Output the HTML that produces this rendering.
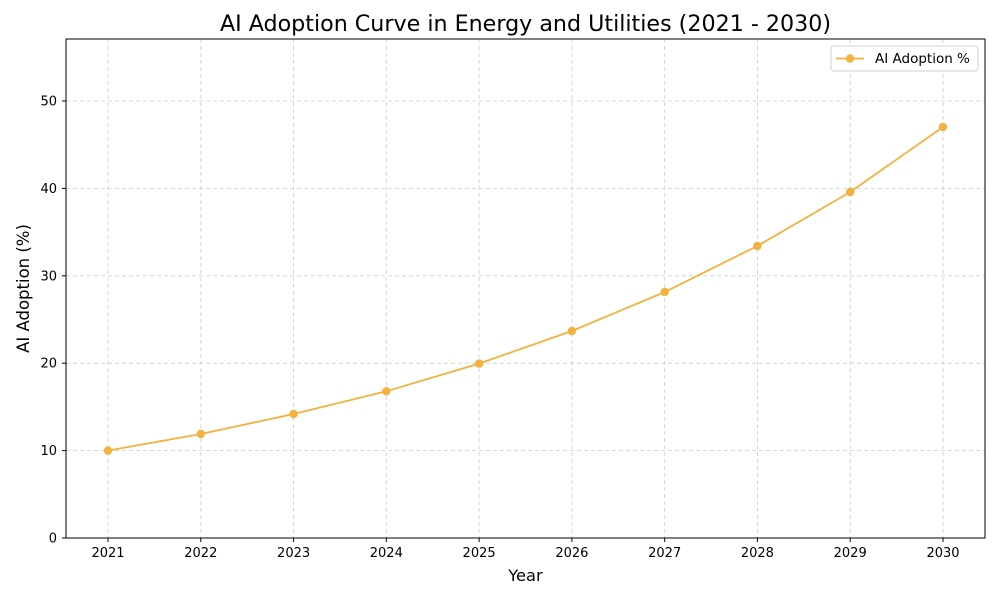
<!DOCTYPE html>
<html><head><meta charset="utf-8"><style>body{margin:0;background:#fff}svg{display:block}text{font-family:"DejaVu Sans","Liberation Sans",sans-serif}</style></head>
<body>
<svg width="1000" height="600" viewBox="0 0 1000 600" xmlns="http://www.w3.org/2000/svg">
<rect width="1000" height="600" fill="#fff"/>
<g stroke="#cccccc" stroke-width="0.8" stroke-dasharray="4,3">
<line x1="108" y1="39" x2="108" y2="538"/><line x1="200.8" y1="39" x2="200.8" y2="538"/><line x1="293.6" y1="39" x2="293.6" y2="538"/><line x1="386.3" y1="39" x2="386.3" y2="538"/><line x1="479.1" y1="39" x2="479.1" y2="538"/><line x1="571.9" y1="39" x2="571.9" y2="538"/><line x1="664.7" y1="39" x2="664.7" y2="538"/><line x1="757.4" y1="39" x2="757.4" y2="538"/><line x1="850.2" y1="39" x2="850.2" y2="538"/><line x1="943" y1="39" x2="943" y2="538"/>
<line x1="66" y1="450.6" x2="985" y2="450.6"/><line x1="66" y1="363.2" x2="985" y2="363.2"/><line x1="66" y1="275.8" x2="985" y2="275.8"/><line x1="66" y1="188.4" x2="985" y2="188.4"/><line x1="66" y1="101" x2="985" y2="101"/>
</g>
<rect x="66" y="39" width="919" height="499" fill="none" stroke="#000" stroke-width="1"/>
<g stroke="#000" stroke-width="1">
<line x1="108" y1="538" x2="108" y2="542"/><line x1="200.8" y1="538" x2="200.8" y2="542"/><line x1="293.6" y1="538" x2="293.6" y2="542"/><line x1="386.3" y1="538" x2="386.3" y2="542"/><line x1="479.1" y1="538" x2="479.1" y2="542"/><line x1="571.9" y1="538" x2="571.9" y2="542"/><line x1="664.7" y1="538" x2="664.7" y2="542"/><line x1="757.4" y1="538" x2="757.4" y2="542"/><line x1="850.2" y1="538" x2="850.2" y2="542"/><line x1="943" y1="538" x2="943" y2="542"/>
<line x1="62" y1="538" x2="66" y2="538"/><line x1="62" y1="450.6" x2="66" y2="450.6"/><line x1="62" y1="363.2" x2="66" y2="363.2"/><line x1="62" y1="275.8" x2="66" y2="275.8"/><line x1="62" y1="188.4" x2="66" y2="188.4"/><line x1="62" y1="101" x2="66" y2="101"/>
</g>
<g font-size="13" text-anchor="middle" fill="#000">
<text x="108" y="557">2021</text><text x="200.8" y="557">2022</text><text x="293.6" y="557">2023</text><text x="386.3" y="557">2024</text><text x="479.1" y="557">2025</text><text x="571.9" y="557">2026</text><text x="664.7" y="557">2027</text><text x="757.4" y="557">2028</text><text x="850.2" y="557">2029</text><text x="943" y="557">2030</text>
</g>
<g font-size="13" text-anchor="end" fill="#000">
<text x="57" y="542.5">0</text><text x="57" y="455">10</text><text x="57" y="367.7">20</text><text x="57" y="280.3">30</text><text x="57" y="192.9">40</text><text x="57" y="105.5">50</text>
</g>
<text x="525.5" y="581" font-size="16.3" text-anchor="middle">Year</text>
<text transform="translate(29,288.5) rotate(-90)" font-size="16.5" text-anchor="middle">AI Adoption (%)</text>
<text x="525.5" y="31" font-size="22.2" text-anchor="middle">AI Adoption Curve in Energy and Utilities (2021 - 2030)</text>
<polyline fill="none" stroke="#f4b13e" stroke-width="1.8" points="108,450.6 200.8,434 293.6,414 386.3,391.3 479.1,363.6 571.9,331 664.7,292 757.4,246 850.2,192 943,127"/>
<g fill="#f4b13e">
<circle cx="108" cy="450.6" r="4.2"/><circle cx="200.8" cy="434" r="4.2"/><circle cx="293.6" cy="414" r="4.2"/><circle cx="386.3" cy="391.3" r="4.2"/><circle cx="479.1" cy="363.6" r="4.2"/><circle cx="571.9" cy="331" r="4.2"/><circle cx="664.7" cy="292" r="4.2"/><circle cx="757.4" cy="246" r="4.2"/><circle cx="850.2" cy="192" r="4.2"/><circle cx="943" cy="127" r="4.2"/>
</g>
<rect x="831" y="46" width="147" height="25" rx="3" fill="#fff" stroke="#d0d0d0"/>
<line x1="836" y1="58.5" x2="864" y2="58.5" stroke="#f4b13e" stroke-width="1.8"/>
<circle cx="850" cy="58.5" r="4.2" fill="#f4b13e"/>
<text x="875" y="63" font-size="13.5">AI Adoption %</text>
</svg>
</body></html>
